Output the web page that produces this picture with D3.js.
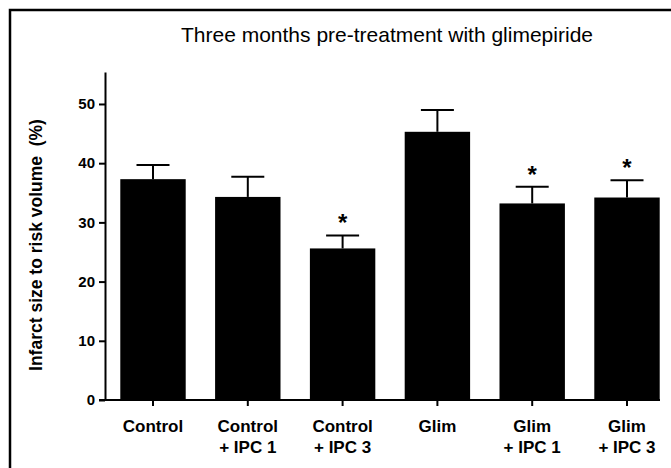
<!DOCTYPE html>
<html>
<head>
<meta charset="utf-8">
<script src="https://cdn.jsdelivr.net/npm/d3@7"></script>
<style>
  body { margin: 0; background: #fff; }
  svg { display: block; font-family: "Liberation Sans", Arial, sans-serif; }
</style>
</head>
<body>
<svg id="chart" width="671" height="468"></svg>
<script>
  var groups = ['Control', 'Control\n+ IPC 1', 'Control\n+ IPC 3', 'Glim', 'Glim\n+ IPC 1', 'Glim\n+ IPC 3'];
  var means = [37.3, 34.3, 25.6, 45.3, 33.2, 34.2];
  var sems = [2.4, 3.4, 2.2, 3.7, 2.8, 2.9];
  var significant = [false, false, true, false, true, true];
  var yTicks = [0, 10, 20, 30, 40, 50];

  var svg = d3.select('#chart');

  // frame (open on the right and bottom like the cropped figure)
  svg.append('path')
      .attr('d', 'M10,468V10H671')
      .attr('fill', 'none')
      .attr('stroke', '#000')
      .attr('stroke-width', 2.5);

  var x = d3.scaleBand()
      .domain(groups)
      .range([105.6, 674.4])
      .paddingInner(0.31)
      .paddingOuter(0.155);

  var y = d3.scaleLinear()
      .domain([0, 55.4])
      .range([400, 72]);

  var data = groups.map(function(g, i) {
    return { group: g, mean: means[i], sem: sems[i], sig: significant[i] };
  });

  // bars
  svg.append('g')
    .selectAll('rect')
    .data(data)
    .enter().append('rect')
      .attr('x', function(d) { return x(d.group); })
      .attr('y', function(d) { return y(d.mean); })
      .attr('width', x.bandwidth())
      .attr('height', function(d) { return y(0) - y(d.mean); })
      .attr('fill', '#000');

  // error bars
  var err = svg.append('g')
      .attr('stroke', '#000')
      .attr('stroke-width', 2);

  err.selectAll('line.stem')
    .data(data)
    .enter().append('line')
      .attr('class', 'stem')
      .attr('x1', function(d) { return x(d.group) + x.bandwidth() / 2; })
      .attr('x2', function(d) { return x(d.group) + x.bandwidth() / 2; })
      .attr('y1', function(d) { return y(d.mean); })
      .attr('y2', function(d) { return y(d.mean + d.sem); });

  err.selectAll('line.cap')
    .data(data)
    .enter().append('line')
      .attr('class', 'cap')
      .attr('x1', function(d) { return x(d.group) + x.bandwidth() / 2 - 16.5; })
      .attr('x2', function(d) { return x(d.group) + x.bandwidth() / 2 + 16.5; })
      .attr('y1', function(d) { return y(d.mean + d.sem); })
      .attr('y2', function(d) { return y(d.mean + d.sem); });

  // asterisks
  svg.append('g')
    .selectAll('text')
    .data(data.filter(function(d) { return d.sig; }))
    .enter().append('text')
      .attr('x', function(d) { return x(d.group) + x.bandwidth() / 2; })
      .attr('y', function(d) { return y(d.mean + d.sem) - 4; })
      .attr('text-anchor', 'middle')
      .attr('font-size', 24)
      .attr('font-weight', 'bold')
      .text('*');

  // y axis
  var yAxis = svg.append('g')
      .attr('transform', 'translate(105,0)')
      .call(d3.axisLeft(y).tickValues(yTicks).tickSize(6).tickSizeOuter(0));
  yAxis.select('.domain').attr('stroke-width', 2);
  yAxis.selectAll('.tick line').attr('stroke-width', 2);
  yAxis.selectAll('.tick text')
      .attr('font-family', '"Liberation Sans", Arial, sans-serif')
      .attr('font-size', 15)
      .attr('font-weight', 'bold')
      .attr('x', -10)
      .attr('fill', '#000');

  // x axis
  var xAxis = svg.append('g')
      .attr('transform', 'translate(0,400)')
      .call(d3.axisBottom(x).tickSize(6).tickSizeOuter(0).tickFormat(''));
  xAxis.select('.domain')
      .attr('d', 'M99,0H660')
      .attr('stroke-width', 2);
  xAxis.selectAll('.tick line').attr('stroke-width', 2);

  var labels = svg.append('g')
      .attr('font-size', 17)
      .attr('font-weight', 'bold')
      .attr('text-anchor', 'middle');
  groups.forEach(function(g) {
    var lines = g.split('\n');
    var t = labels.append('text')
        .attr('x', x(g) + x.bandwidth() / 2)
        .attr('y', 432);
    lines.forEach(function(l, i) {
      t.append('tspan')
          .attr('x', x(g) + x.bandwidth() / 2)
          .attr('dy', i === 0 ? 0 : 21)
          .text(l);
    });
  });

  // y axis title
  svg.append('text')
      .attr('transform', 'translate(42,245) rotate(-90)')
      .attr('text-anchor', 'middle')
      .attr('font-size', 17.5)
      .attr('font-weight', 'bold')
      .attr('xml:space', 'preserve')
      .text('Infarct size to risk volume  (%)');

  // title
  svg.append('text')
      .attr('x', 387)
      .attr('y', 42)
      .attr('text-anchor', 'middle')
      .attr('font-size', 21)
      .text('Three months pre-treatment with glimepiride');
</script>
</body>
</html>
